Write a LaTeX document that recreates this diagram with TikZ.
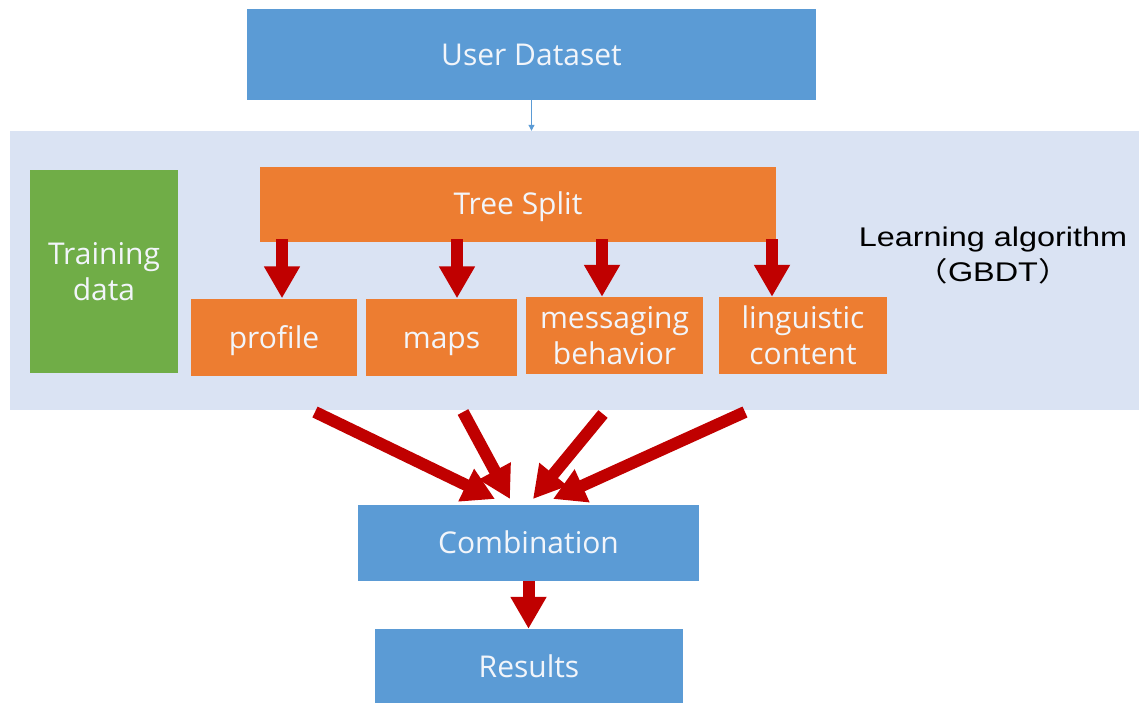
\documentclass[tikz,border=0pt]{standalone}
\usepackage{graphicx}
\usepackage{fontspec}
\setmainfont{Open Sans}
\newfontfamily\labfont{Liberation Sans}
\newfontfamily\cjk{Noto Sans CJK SC}
\usetikzlibrary{arrows.meta}
\definecolor{boxblue}{HTML}{5B9BD5}
\definecolor{boxorange}{HTML}{ED7D31}
\definecolor{boxgreen}{HTML}{70AD47}
\definecolor{panelblue}{HTML}{DAE3F3}
\definecolor{arrowred}{HTML}{C00000}
\definecolor{boxtext}{HTML}{F2F5FA}
\begin{document}
\begin{tikzpicture}[x=1pt,y=-1pt,
  box/.style={rectangle, inner sep=0pt, text=boxtext, align=center,
    font=\fontsize{30}{36}\selectfont},
  oneline/.style={box, text height=21.5pt, text depth=0pt},
  redarrow/.style={draw=arrowred, line width=12pt,
    -{Triangle[width=34pt,length=32pt]}},
  thinarrow/.style={draw=boxblue, line width=1pt,
    -{Triangle[width=6pt,length=6pt]}},
  labtext/.style={align=center, text=black, inner sep=0pt,
    font=\labfont\fontsize{27}{35}\selectfont}
]
\useasboundingbox (0,0) rectangle (1139,702);
% background panel
\node[rectangle, fill=panelblue, inner sep=0pt, minimum width=1129pt, minimum height=279pt] (panel) at (574.5,270.5) {};
% boxes
\node[oneline, fill=boxblue, minimum width=569pt, minimum height=91pt] (ud) at (531.5,54.5) {User Dataset};
\node[box, fill=boxgreen, minimum width=148pt, minimum height=203pt] (train) at (104,271.5) {Training\\data};
\node[oneline, fill=boxorange, minimum width=516pt, minimum height=75pt] (tree) at (518,204) {Tree Split};
\node[box, fill=boxorange, minimum width=166pt, minimum height=77pt, text height=22pt, text depth=0pt] (prof) at (274,337) {profile};
\node[box, fill=boxorange, minimum width=151pt, minimum height=77pt, text height=22pt, text depth=0pt] (maps) at (441.5,337) {maps};
\node[box, fill=boxorange, minimum width=177pt, minimum height=77pt] (msg) at (614.5,335.5) {messaging\\behavior};
\node[box, fill=boxorange, minimum width=168pt, minimum height=77pt] (ling) at (803,335.5) {linguistic\\content};
\node[oneline, fill=boxblue, minimum width=341pt, minimum height=76pt] (comb) at (528.5,543) {Combination};
\node[oneline, fill=boxblue, minimum width=308pt, minimum height=76pt] (res) at (529,667) {Results};
\node[labtext] (lab) at (993,256) {\scalebox{1.2}[1]{Learning algorithm}\\\scalebox{1.2}[1]{{\cjk （}GBDT{\cjk ）}}};
% thin arrow
\draw[thinarrow] (ud.south) -- (ud.south |- panel.north);
% tree arrows
\coordinate (t1) at (282,239);
\coordinate (t2) at (457,239);
\coordinate (t3) at (602,239);
\coordinate (t4) at (772,239);
\draw[redarrow] (t1) -- (t1 |- prof.north);
\draw[redarrow] (t2) -- (t2 |- maps.north);
\draw[redarrow] (t3) -- (t3 |- msg.north);
\draw[redarrow] (t4) -- (t4 |- ling.north);
% converging arrows
\coordinate (s1) at (315,412);
\coordinate (s2) at (463,412);
\coordinate (s3) at (603,414);
\coordinate (s4) at (745,412);
\coordinate (e1) at (495,499);
\coordinate (e2) at (510,499);
\coordinate (e3) at (533,499);
\coordinate (e4) at (553,499);
\draw[redarrow] (s1) -- (e1);
\draw[redarrow] (s2) -- (e2);
\draw[redarrow] (s3) -- (e3);
\draw[redarrow] (s4) -- (e4);
% combination to results
\draw[redarrow] (comb.south) -- (comb.south |- res.north);
\end{tikzpicture}
\end{document}
